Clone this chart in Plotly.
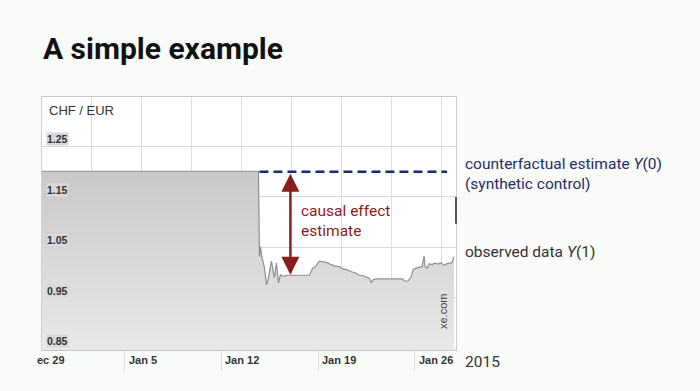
import plotly.graph_objects as go

# ---------------- data ----------------
obs_dates = [
    "2014-12-30 00:00", "2015-01-14 16:30", "2015-01-14 18:10", "2015-01-14 20:00",
    "2015-01-14 21:40", "2015-01-14 23:25", "2015-01-15 02:50", "2015-01-15 06:20",
    "2015-01-15 09:50", "2015-01-15 15:00", "2015-01-15 18:30", "2015-01-15 20:10",
    "2015-01-15 23:45", "2015-01-16 03:10", "2015-01-16 06:40", "2015-01-16 11:50",
    "2015-01-16 18:50", "2015-01-18 08:55", "2015-01-18 14:10", "2015-01-18 19:25",
    "2015-01-19 02:20", "2015-01-19 09:20", "2015-01-19 16:10", "2015-01-19 23:05",
    "2015-01-20 06:00", "2015-01-20 13:00", "2015-01-20 19:55", "2015-01-21 02:50",
    "2015-01-21 09:50", "2015-01-21 16:45", "2015-01-21 23:45", "2015-01-22 06:40",
    "2015-01-22 13:40", "2015-01-22 17:05", "2015-01-22 20:35", "2015-01-23 00:00",
    "2015-01-23 05:10", "2015-01-25 02:20", "2015-01-25 07:30", "2015-01-25 12:40",
    "2015-01-25 17:55", "2015-01-25 21:20", "2015-01-26 02:35", "2015-01-26 07:50",
    "2015-01-26 13:00", "2015-01-26 16:30", "2015-01-26 18:15", "2015-01-26 21:40",
    "2015-01-27 01:10", "2015-01-27 06:20", "2015-01-27 11:35", "2015-01-27 16:45",
    "2015-01-27 22:00", "2015-01-28 03:10", "2015-01-28 08:25", "2015-01-28 13:35",
    "2015-01-28 17:00", "2015-01-28 20:35",
]
obs_values = [
    1.201, 1.201, 1.032, 1.052,
    1.035, 1.028, 1.010, 0.976,
    0.990, 1.023, 0.995, 0.990,
    1.019, 0.980, 0.996, 0.993,
    0.995, 0.995, 1.008, 1.012,
    1.023, 1.021, 1.020, 1.016,
    1.013, 1.012, 1.007, 1.006,
    1.002, 1.000, 0.995, 0.994,
    0.990, 0.989, 0.981, 0.986,
    0.988, 0.988, 0.983, 0.984,
    0.992, 1.006, 1.009, 1.010,
    1.012, 1.033, 1.012, 1.009,
    1.018, 1.016, 1.019, 1.017,
    1.020, 1.015, 1.018, 1.019,
    1.020, 1.032,
]

cf_dates = ["2015-01-14 18:10", "2015-01-28 08:25"]
cf_values = [1.200, 1.200]

effect_date = "2015-01-17 00:00"
effect_top = 1.199
effect_bottom = 0.996

y_tick_vals = [1.25, 1.15, 1.05, 0.95, 0.85]
y_tick_text = ["1.25", "1.15", "1.05", "0.95", "0.85"]

week_ticks = ["2015-01-05", "2015-01-12", "2015-01-19", "2015-01-26"]
week_labels = ["Jan 5", "Jan 12", "Jan 19", "Jan 26"]

x_range = ["2014-12-30", "2015-01-29"]
y_range = [0.847, 1.348]

# ---------------- figure ----------------
L, R, T, B = 42, 244, 97, 41
W, H = 700, 391
pw = W - L - R
ph = H - T - B

def px_x(x):
    return (x - L) / pw

def px_y(y):
    return (H - B - y) / ph

fig = go.Figure()

fig.add_trace(go.Scatter(
    x=obs_dates, y=obs_values, mode="lines",
    line=dict(color="#8f8f8f", width=1.2),
    fill="tozeroy",
    fillgradient=dict(type="vertical",
                      colorscale=[[0, "#e9e9e9"], [1, "#c8c8c8"]],
                      start=0.85, stop=1.2),
    hoverinfo="skip", showlegend=False,
))

fig.add_trace(go.Scatter(
    x=cf_dates, y=cf_values, mode="lines",
    line=dict(color="#1b2a6e", width=2.5, dash="9px,5px"),
    hoverinfo="skip", showlegend=False,
))

fig.update_layout(
    width=W, height=H,
    margin=dict(l=L, r=R, t=T, b=B, pad=0),
    paper_bgcolor="#f9fbf8",
    plot_bgcolor="#ffffff",
    font=dict(family="Liberation Sans, Arial, sans-serif", color="#333333"),
    xaxis=dict(
        type="date", range=x_range,
        tickmode="array", tickvals=week_ticks, showticklabels=False,
        ticks="outside", ticklen=20, tickcolor="#dddddd", tickwidth=1,
        showgrid=False, zeroline=False,
        showline=True, linecolor="#c8c8c8", mirror=True,
        minor=dict(tick0="2014-12-30", dtick=312336000, showgrid=True,
                   gridcolor="#dedede", gridwidth=1, ticks=""),
    ),
    yaxis=dict(
        range=y_range, tickmode="array", tickvals=y_tick_vals,
        showticklabels=False, showgrid=True, gridcolor="#d8d8d8",
        zeroline=False, showline=True, linecolor="#d0d0d0", mirror=True,
    ),
)

ann = []
# title
ann.append(dict(xref="paper", yref="paper", x=px_x(41), y=px_y(49),
                xanchor="left", yanchor="middle", showarrow=False,
                text="<b>A simple example</b>",
                font=dict(family="Roboto, sans-serif", size=30, color="#111111")))
# unit label
ann.append(dict(xref="paper", yref="paper", x=px_x(47), y=px_y(110),
                xanchor="left", yanchor="middle", showarrow=False,
                text="CHF / EUR", font=dict(size=13, color="#333333")))
# y tick labels
for v, t in zip(y_tick_vals, y_tick_text):
    ann.append(dict(xref="paper", yref="y", x=px_x(46), y=v,
                    xanchor="left", yanchor="bottom", showarrow=False,
                    text="<b>" + t + "</b>", bgcolor="#d9d9d9", borderpad=0,
                    font=dict(size=10.5, color="#333333")))
# x tick labels
for d, t in zip(week_ticks, week_labels):
    ann.append(dict(xref="x", yref="paper", x=d, y=px_y(360),
                    xanchor="left", yanchor="middle", xshift=2, showarrow=False,
                    text="<b>" + t + "</b>", font=dict(size=11, color="#333333")))
ann.append(dict(xref="paper", yref="paper", x=px_x(35), y=px_y(360),
                xanchor="left", yanchor="middle", showarrow=False,
                text="<b>ec 29</b>", font=dict(size=11, color="#333333")))
# xe.com
ann.append(dict(xref="paper", yref="paper", x=px_x(443), y=px_y(312),
                xanchor="center", yanchor="middle", showarrow=False,
                text="xe.com", textangle=-90, font=dict(size=11, color="#444444")))
# double arrow
ann.append(dict(xref="x", yref="y", x=effect_date, y=effect_bottom,
                axref="x", ayref="y", ax=effect_date, ay=effect_top,
                showarrow=True, arrowside="end+start", arrowhead=2,
                arrowsize=1.5, arrowwidth=2.4, arrowcolor="#8b1c1c", text=""))
ann.append(dict(xref="paper", yref="paper", x=px_x(299), y=px_y(221),
                xanchor="left", yanchor="middle", align="left", showarrow=False,
                text="causal effect<br>estimate",
                font=dict(family="Roboto, sans-serif", size=15.5, color="#8b1c1c")))
# right side text
rfont = "Roboto, sans-serif"
ann.append(dict(xref="paper", yref="paper", x=px_x(463), y=px_y(174),
                xanchor="left", yanchor="middle", align="left", showarrow=False,
                text="counterfactual estimate <i>Y</i>(0)<br>(synthetic control)",
                font=dict(family=rfont, size=15.5, color="#1f2d6b")))
ann.append(dict(xref="paper", yref="paper", x=px_x(463), y=px_y(252),
                xanchor="left", yanchor="middle", showarrow=False,
                text="observed data <i>Y</i>(1)",
                font=dict(family=rfont, size=15.5, color="#333333")))
ann.append(dict(xref="paper", yref="paper", x=px_x(463), y=px_y(362),
                xanchor="left", yanchor="middle", showarrow=False,
                text="2015", font=dict(family=rfont, size=15.5, color="#333333")))
fig.update_layout(annotations=ann)

# small dark marker at right border (as in reference)
fig.add_shape(type="line", xref="paper", yref="y", x0=1.0, x1=1.0,
              y0=1.15, y1=1.097, line=dict(color="#555555", width=2))

fig.write_html(
    "out.html",
    config={"displayModeBar": False},
    post_script="document.body.style.margin='0';document.body.style.background='#f9fbf8';document.body.style.overflow='hidden';",
)
